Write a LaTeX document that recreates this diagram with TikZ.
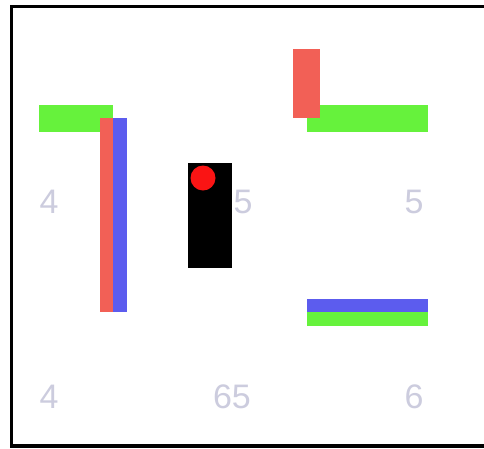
\documentclass[tikz,border=0pt]{standalone}
\usepackage{fontspec}
\setmainfont{Liberation Sans}
\definecolor{barred}{RGB}{242,96,86}
\definecolor{bargreen}{RGB}{102,242,60}
\definecolor{barblue}{RGB}{92,92,238}
\definecolor{dotred}{RGB}{250,20,20}
\definecolor{numcol}{RGB}{204,204,222}
\tikzset{
  numlabel/.style={text=numcol, font=\fontsize{34}{34}\selectfont, inner sep=0pt, anchor=center},
}
\begin{document}
\begin{tikzpicture}[x=1pt,y=-1pt]
\useasboundingbox (0,0) rectangle (484,448);
\fill[white] (0,0) rectangle (484,448);
\begin{scope}
\clip (0,0) rectangle (484,448);
\draw[line width=3.5pt] (11.5,6.5) rectangle (495,446);
\end{scope}
% top-left group
\fill[bargreen] (39,105) rectangle (113,132);
\fill[barred] (100,118) rectangle (113,312);
\fill[barblue] (113,118) rectangle (127,312);
% black block with red dot
\fill[black] (188,163) rectangle (232,268);
\fill[dotred] (203,178) circle (12.5);
% top-right group
\fill[bargreen] (307,105) rectangle (428,132);
\fill[barred] (293,49) rectangle (320,118);
% bottom-right group
\fill[barblue] (307,299) rectangle (428,312);
\fill[bargreen] (307,312) rectangle (428,326);
% labels
\node[numlabel] (n1) at (49,202) {4};
\node[numlabel] (n2) at (243,202) {5};
\node[numlabel] (n3) at (414,202) {5};
\node[numlabel] (n4) at (49,397) {4};
\node[numlabel] (n5) at (232,397) {65};
\node[numlabel] (n6) at (414,397) {6};
\end{tikzpicture}
\end{document}
